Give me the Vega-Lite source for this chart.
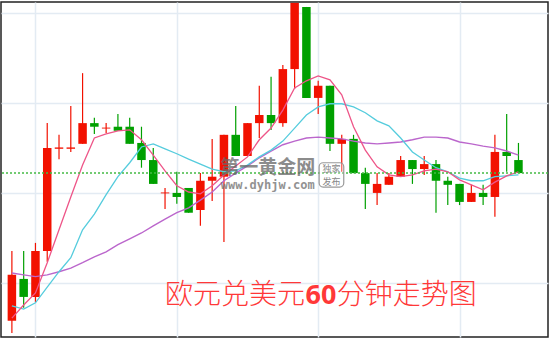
{
  "$schema": "https://vega.github.io/schema/vega-lite/v6.json",
  "width": 547,
  "height": 335,
  "autosize": "none",
  "padding": {"left": 1, "top": 2, "right": 2, "bottom": 5},
  "background": "white",
  "config": {
    "view": {"stroke": "#222222", "strokeWidth": 1.5},
    "axis": {"grid": true, "gridColor": "#e3ebf3", "gridWidth": 1.5, "labels": false, "ticks": false, "domain": false, "title": null}
  },
  "data": {"values": [
    {"i":0,"o":1.17716,"c":1.17818,"h":1.17871,"l":1.17689,"m5":1.17722,"m10":1.17749,"m20":1.17822},
    {"i":1,"o":1.17809,"c":1.17769,"h":1.17871,"l":1.17745,"m5":1.17751,"m10":1.17742,"m20":1.17818},
    {"i":2,"o":1.17769,"c":1.17871,"h":1.17889,"l":1.17758,"m5":1.17778,"m10":1.17756,"m20":1.17814},
    {"i":3,"o":1.17871,"c":1.18100,"h":1.18155,"l":1.17847,"m5":1.17845,"m10":1.17791,"m20":1.17818},
    {"i":4,"o":1.18098,"c":1.18101,"h":1.18129,"l":1.18075,"m5":1.17918,"m10":1.17825,"m20":1.17825},
    {"i":5,"o":1.18098,"c":1.18101,"h":1.18193,"l":1.18091,"m5":1.17991,"m10":1.17856,"m20":1.17833},
    {"i":6,"o":1.18109,"c":1.18155,"h":1.18266,"l":1.18109,"m5":1.18062,"m10":1.17918,"m20":1.17845},
    {"i":7,"o":1.18155,"c":1.18147,"h":1.18167,"l":1.18131,"m5":1.18122,"m10":1.17953,"m20":1.17858},
    {"i":8,"o":1.18143,"c":1.18145,"h":1.18155,"l":1.18133,"m5":1.18131,"m10":1.17996,"m20":1.17869},
    {"i":9,"o":1.18147,"c":1.18138,"h":1.18175,"l":1.18138,"m5":1.18138,"m10":1.18036,"m20":1.17885},
    {"i":10,"o":1.18147,"c":1.18109,"h":1.18167,"l":1.18109,"m5":1.18140,"m10":1.18067,"m20":1.17898},
    {"i":11,"o":1.18111,"c":1.18073,"h":1.18147,"l":1.18056,"m5":1.18118,"m10":1.18102,"m20":1.17911},
    {"i":12,"o":1.18073,"c":1.18020,"h":1.18100,"l":1.18020,"m5":1.18084,"m10":1.18109,"m20":1.17927},
    {"i":13,"o":1.17999,"c":1.18001,"h":1.18011,"l":1.17964,"m5":1.18049,"m10":1.18098,"m20":1.17942},
    {"i":14,"o":1.18000,"c":1.17991,"h":1.18047,"l":1.17976,"m5":1.18016,"m10":1.18087,"m20":1.17956},
    {"i":15,"o":1.18011,"c":1.17956,"h":1.18011,"l":1.17956,"m5":1.18002,"m10":1.18075,"m20":1.17967},
    {"i":16,"o":1.17962,"c":1.18027,"h":1.18044,"l":1.17927,"m5":1.17998,"m10":1.18064,"m20":1.17984},
    {"i":17,"o":1.18027,"c":1.18036,"h":1.18120,"l":1.17982,"m5":1.18016,"m10":1.18053,"m20":1.18002},
    {"i":18,"o":1.18036,"c":1.18129,"h":1.18129,"l":1.17891,"m5":1.18040,"m10":1.18047,"m20":1.18027},
    {"i":19,"o":1.18129,"c":1.18082,"h":1.18193,"l":1.18082,"m5":1.18060,"m10":1.18049,"m20":1.18044},
    {"i":20,"o":1.18082,"c":1.18155,"h":1.18155,"l":1.18082,"m5":1.18080,"m10":1.18062,"m20":1.18060},
    {"i":21,"o":1.18155,"c":1.18173,"h":1.18238,"l":1.18122,"m5":1.18118,"m10":1.18080,"m20":1.18078},
    {"i":22,"o":1.18173,"c":1.18155,"h":1.18258,"l":1.18140,"m5":1.18144,"m10":1.18095,"m20":1.18093},
    {"i":23,"o":1.18155,"c":1.18275,"h":1.18284,"l":1.18147,"m5":1.18184,"m10":1.18115,"m20":1.18107},
    {"i":24,"o":1.18275,"c":1.18422,"h":1.18422,"l":1.18231,"m5":1.18233,"m10":1.18144,"m20":1.18115},
    {"i":25,"o":1.18413,"c":1.18211,"h":1.18413,"l":1.18211,"m5":1.18249,"m10":1.18173,"m20":1.18122},
    {"i":26,"o":1.18211,"c":1.18238,"h":1.18249,"l":1.18175,"m5":1.18260,"m10":1.18191,"m20":1.18124},
    {"i":27,"o":1.18238,"c":1.18109,"h":1.18238,"l":1.18093,"m5":1.18251,"m10":1.18198,"m20":1.18122},
    {"i":28,"o":1.18109,"c":1.18120,"h":1.18129,"l":1.18047,"m5":1.18218,"m10":1.18198,"m20":1.18120},
    {"i":29,"o":1.18120,"c":1.18044,"h":1.18129,"l":1.18044,"m5":1.18147,"m10":1.18191,"m20":1.18115},
    {"i":30,"o":1.18044,"c":1.18020,"h":1.18056,"l":1.17964,"m5":1.18095,"m10":1.18178,"m20":1.18111},
    {"i":31,"o":1.18000,"c":1.18020,"h":1.18044,"l":1.17973,"m5":1.18058,"m10":1.18160,"m20":1.18109},
    {"i":32,"o":1.18018,"c":1.18036,"h":1.18044,"l":1.18018,"m5":1.18040,"m10":1.18149,"m20":1.18111},
    {"i":33,"o":1.18036,"c":1.18073,"h":1.18082,"l":1.18036,"m5":1.18036,"m10":1.18122,"m20":1.18113},
    {"i":34,"o":1.18073,"c":1.18053,"h":1.18073,"l":1.18020,"m5":1.18040,"m10":1.18091,"m20":1.18118},
    {"i":35,"o":1.18053,"c":1.18064,"h":1.18082,"l":1.18040,"m5":1.18049,"m10":1.18073,"m20":1.18124},
    {"i":36,"o":1.18064,"c":1.18027,"h":1.18073,"l":1.17956,"m5":1.18053,"m10":1.18056,"m20":1.18124},
    {"i":37,"o":1.18027,"c":1.18018,"h":1.18036,"l":1.17973,"m5":1.18047,"m10":1.18047,"m20":1.18122},
    {"i":38,"o":1.18020,"c":1.17980,"h":1.18020,"l":1.17973,"m5":1.18029,"m10":1.18033,"m20":1.18113},
    {"i":39,"o":1.17980,"c":1.18000,"h":1.18018,"l":1.17980,"m5":1.18018,"m10":1.18027,"m20":1.18109},
    {"i":40,"o":1.18000,"c":1.17991,"h":1.18018,"l":1.17973,"m5":1.18007,"m10":1.18027,"m20":1.18104},
    {"i":41,"o":1.17991,"c":1.18091,"h":1.18129,"l":1.17947,"m5":1.18024,"m10":1.18036,"m20":1.18100},
    {"i":42,"o":1.18091,"c":1.18082,"h":1.18175,"l":1.18047,"m5":1.18038,"m10":1.18038,"m20":1.18093},
    {"i":43,"o":1.18073,"c":1.18044,"h":1.18111,"l":1.18044,"m5":1.18047,"m10":1.18040,"m20":1.18084}
  ]},
  "layer": [
    {
      "mark": {"type": "rule", "strokeWidth": 1.2},
      "encoding": {
        "x": {"field": "i", "type": "quantitative", "scale": {"domain": [-0.5, 45.083], "nice": false, "zero": false},
              "axis": {"values": [2, 14, 26, 38], "grid": true, "labels": false, "ticks": false, "domain": false, "title": null}},
        "y": {"field": "l", "type": "quantitative", "scale": {"domain": [1.1768, 1.18424], "nice": false, "zero": false},
              "axis": {"values": [1.178, 1.18, 1.182, 1.184], "grid": true, "labels": false, "ticks": false, "domain": false, "title": null}},
        "y2": {"field": "h"},
        "color": {"condition": {"test": "datum.c >= datum.o", "value": "#f21100"}, "value": "#00a000"}
      }
    },
    {
      "mark": {"type": "bar", "size": 8.5},
      "encoding": {
        "x": {"field": "i", "type": "quantitative"},
        "y": {"field": "o", "type": "quantitative"},
        "y2": {"field": "c"},
        "color": {"condition": {"test": "datum.c >= datum.o", "value": "#f21100"}, "value": "#00a000"}
      }
    },
    {
      "mark": {"type": "line", "color": "#bb66cc", "strokeWidth": 1.4},
      "encoding": {"x": {"field": "i", "type": "quantitative"}, "y": {"field": "m20", "type": "quantitative"}}
    },
    {
      "mark": {"type": "line", "color": "#55ccdd", "strokeWidth": 1.3},
      "encoding": {"x": {"field": "i", "type": "quantitative"}, "y": {"field": "m10", "type": "quantitative"}}
    },
    {
      "mark": {"type": "line", "color": "#ee5588", "strokeWidth": 1.3},
      "encoding": {"x": {"field": "i", "type": "quantitative"}, "y": {"field": "m5", "type": "quantitative"}}
    },
    {
      "data": {"values": [{}]},
      "mark": {"type": "rule", "color": "#44bb44", "strokeDash": [2, 2], "strokeWidth": 1.5},
      "encoding": {"y": {"datum": 1.18044, "type": "quantitative"}}
    },
    {
      "data": {"values": [{}]},
      "mark": {"type": "text", "text": "第一黄金网", "font": "Noto Sans CJK SC", "fontSize": 19, "fontWeight": "bold", "color": "#666666", "opacity": 0.75, "align": "center", "baseline": "middle"},
      "encoding": {"x": {"datum": 21.71, "type": "quantitative"}, "y": {"datum": 1.180555, "type": "quantitative"}}
    },
    {
      "data": {"values": [{}]},
      "mark": {"type": "text", "text": "www.dyhjw.com", "font": "DejaVu Sans Mono", "fontSize": 12, "fontWeight": "bold", "color": "#777777", "opacity": 0.8, "align": "center", "baseline": "middle"},
      "encoding": {"x": {"datum": 21.71, "type": "quantitative"}, "y": {"datum": 1.180185, "type": "quantitative"}}
    },
    {
      "data": {"values": [{}]},
      "mark": {"type": "rect", "fill": "white", "fillOpacity": 0.3, "stroke": "#999999", "strokeWidth": 1.2, "cornerRadius": 4},
      "encoding": {"x": {"datum": 26.08, "type": "quantitative"}, "x2": {"datum": 28.17}, "y": {"datum": 1.18067, "type": "quantitative"}, "y2": {"datum": 1.18013}}
    },
    {
      "data": {"values": [{}]},
      "mark": {"type": "text", "text": "独家", "font": "Noto Sans CJK SC", "fontSize": 9, "color": "#888888", "align": "center", "baseline": "middle"},
      "encoding": {"x": {"datum": 27.125, "type": "quantitative"}, "y": {"datum": 1.180522, "type": "quantitative"}}
    },
    {
      "data": {"values": [{}]},
      "mark": {"type": "text", "text": "发布", "font": "Noto Sans CJK SC", "fontSize": 9, "color": "#888888", "align": "center", "baseline": "middle"},
      "encoding": {"x": {"datum": 27.125, "type": "quantitative"}, "y": {"datum": 1.180244, "type": "quantitative"}}
    },
    {
      "data": {"values": [{}]},
      "mark": {"type": "text", "text": "欧元兑美元", "font": "Noto Sans CJK SC", "fontSize": 28, "fontWeight": 300, "color": "#ff3838", "align": "left", "baseline": "middle"},
      "encoding": {"x": {"datum": 13.0, "type": "quantitative"}, "y": {"datum": 1.17771, "type": "quantitative"}}
    },
    {
      "data": {"values": [{}]},
      "mark": {"type": "text", "text": "60", "font": "Noto Sans", "fontSize": 27, "fontWeight": "bold", "color": "#ff3838", "align": "left", "baseline": "middle"},
      "encoding": {"x": {"datum": 24.92, "type": "quantitative"}, "y": {"datum": 1.17771, "type": "quantitative"}}
    },
    {
      "data": {"values": [{}]},
      "mark": {"type": "text", "text": "分钟走势图", "font": "Noto Sans CJK SC", "fontSize": 28, "fontWeight": 300, "color": "#ff3838", "align": "left", "baseline": "middle"},
      "encoding": {"x": {"datum": 27.58, "type": "quantitative"}, "y": {"datum": 1.17771, "type": "quantitative"}}
    }
  ]
}
